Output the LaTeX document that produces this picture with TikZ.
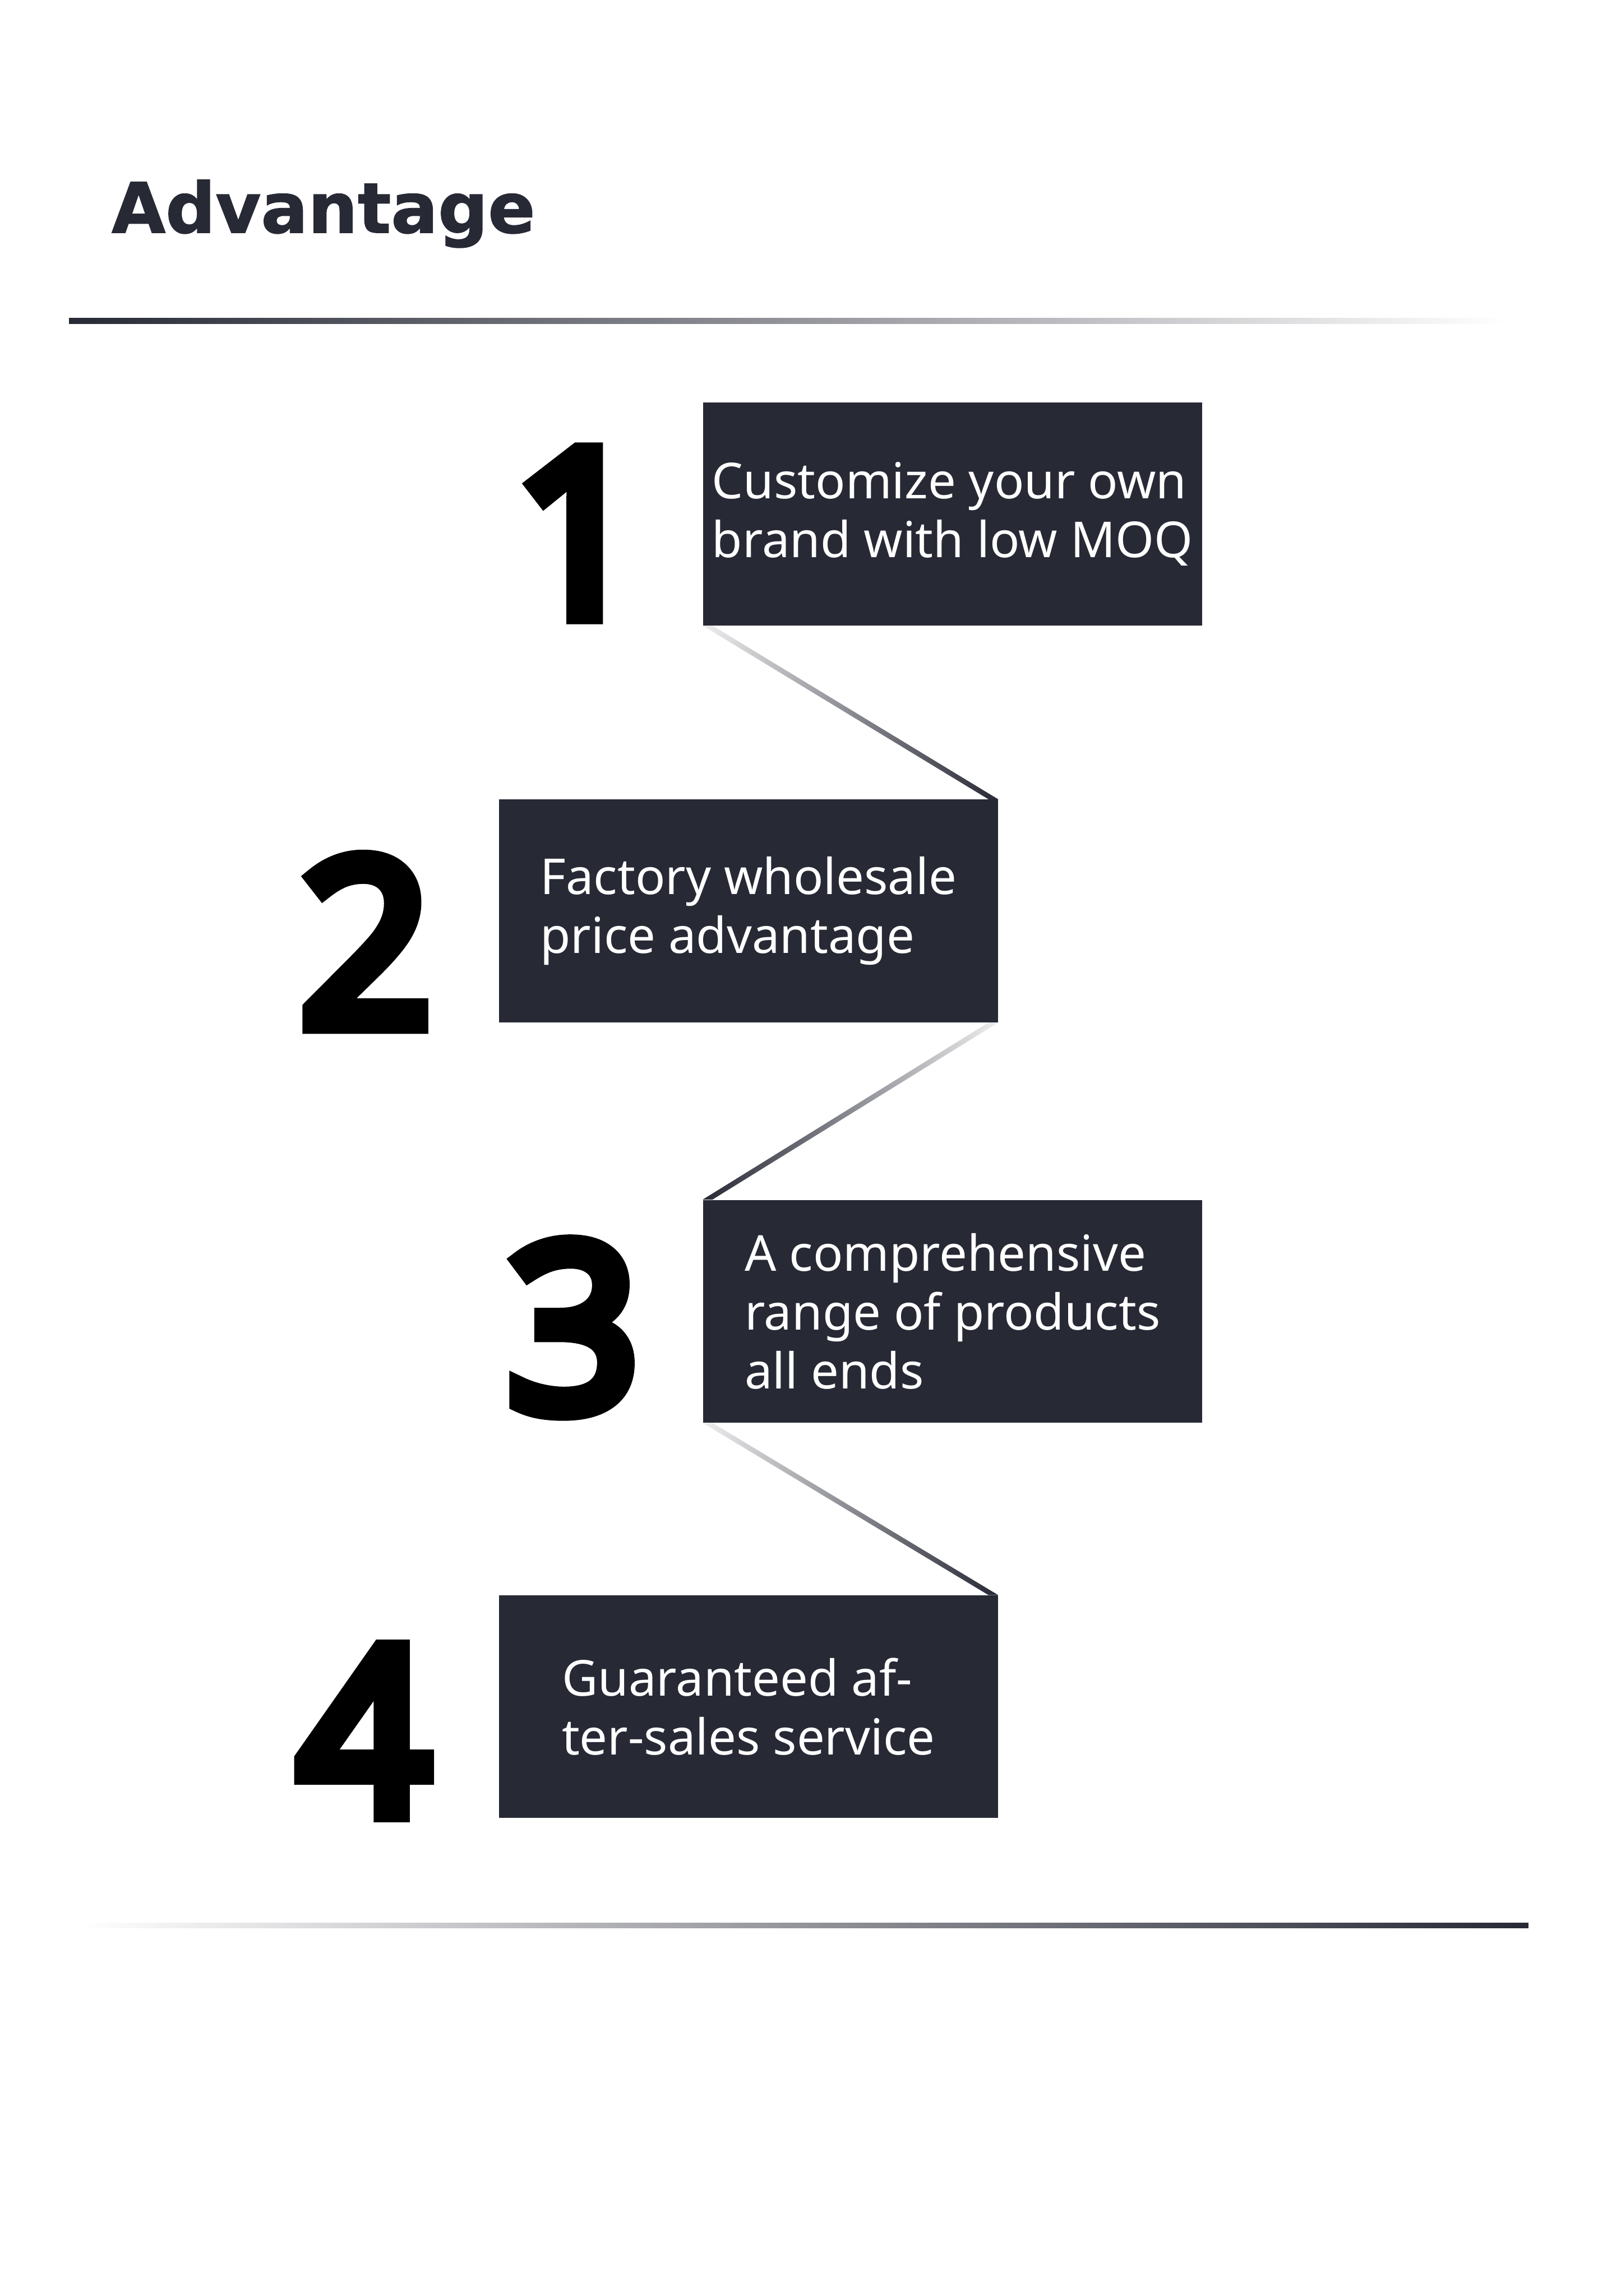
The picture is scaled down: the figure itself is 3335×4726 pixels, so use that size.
\documentclass[tikz,border=0pt]{standalone}
\usepackage{fontspec}
\usepackage{xcolor}
\usepackage{tikz}
\usetikzlibrary{calc}
\newfontfamily\bodyfont{Noto Sans}
\newfontfamily\numfont{Open Sans}[AutoFakeBold=8]
\newfontfamily\headfont{DejaVu Sans}[BoldFeatures={FakeBold=1.2}]
\definecolor{panel}{HTML}{272935}

\begin{document}
\begin{tikzpicture}[x=0.01cm,y=-0.01cm,
  card/.style={fill=panel,text=white,inner sep=0pt,minimum width=10.26cm,
    minimum height=4.58cm,align=left,font=\bodyfont\fontsize{29}{34.4}\selectfont},
  bignum/.style={anchor=base,text=black,inner sep=0pt,
    font=\numfont\bfseries\fontsize{134}{150}\selectfont},
  linkdown/.style={left color=white!92!panel,right color=panel},
  linkup/.style={left color=panel,right color=white!92!panel}]
  % page
  \fill[white] (0,0) rectangle (3335,4726);
  \useasboundingbox (0,0) rectangle (3335,4726);
  % heading and the two rules
  \node[anchor=base west,inner sep=0pt,text=panel,
    font=\headfont\bfseries\fontsize{40.8}{48}\selectfont] (title) at (229,479) {Advantage};
  \shade[left color=panel,right color=white] (142,655) rectangle (3100,666);
  \shade[left color=white,right color=panel] (161,3958) rectangle (3145,3969);
  % the four cards
  \node[card] (b1) at (1960,1058) {Customize your own\\brand with low MOQ};
  \node[card] (b2) at (1540,1875) {Factory wholesale\\price advantage};
  \node[card] (b3) at (1960,2699) {A comprehensive\\range of products\\all ends};
  \node[card] (b4) at (1540,3513) {Guaranteed af-\\ter-sales service};
  % big numbers
  \node[bignum] (n1) at (1192,1266) {1};
  \node[bignum] (n2) at (753,2109) {2};
  \node[bignum] (n3) at (1180,2901) {3};
  \node[bignum] (n4) at (749,3732) {4};
  % zigzag links between the cards
  \shade[linkdown] (b1.south west) -- ([xshift=0.2cm]b1.south west)
    -- (b2.north east) -- ([xshift=-0.2cm]b2.north east) -- cycle;
  \shade[linkup] (b2.south east) -- ([xshift=-0.2cm]b2.south east)
    -- (b3.north west) -- ([xshift=0.2cm]b3.north west) -- cycle;
  \shade[linkdown] (b3.south west) -- ([xshift=0.2cm]b3.south west)
    -- (b4.north east) -- ([xshift=-0.2cm]b4.north east) -- cycle;
\end{tikzpicture}
\end{document}
